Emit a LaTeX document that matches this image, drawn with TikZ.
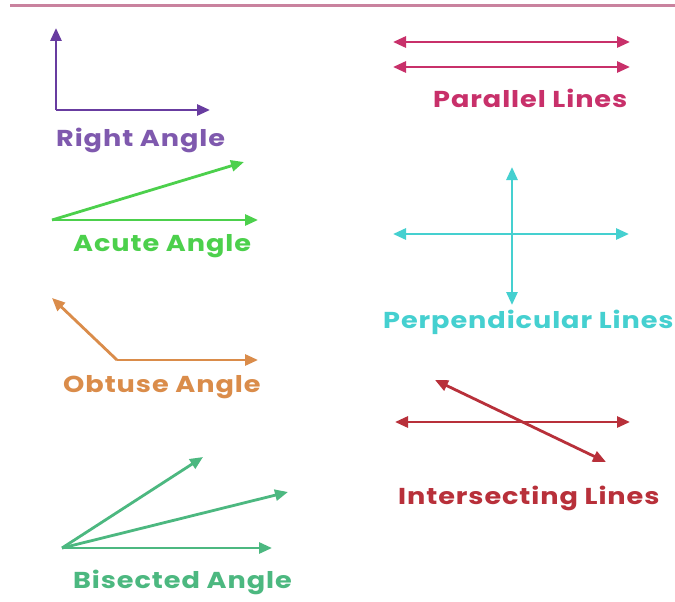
\documentclass[tikz,border=0pt]{standalone}
\usepackage{fontspec}
\setmainfont{Poppins}[FakeStretch=1.18,LetterSpace=4]
\usetikzlibrary{arrows.meta}
\definecolor{cTop}{RGB}{201,130,158}
\definecolor{cPurple}{RGB}{104,60,160}
\definecolor{cPink}{RGB}{200,48,106}
\definecolor{cGreen}{RGB}{76,208,76}
\definecolor{cCyan}{RGB}{69,208,208}
\definecolor{cOrange}{RGB}{218,140,74}
\definecolor{cRed}{RGB}{184,48,58}
\definecolor{cSea}{RGB}{76,184,128}
\tikzset{
  ray/.style={line width=2.8pt,-{Triangle[length=13pt,width=11pt]}},
  dray/.style={line width=2.8pt,{Triangle[length=13pt,width=11pt]}-{Triangle[length=13pt,width=11pt]}},
  lbl/.style={anchor=base west,inner sep=0pt,font=\fontsize{23}{26}\selectfont\bfseries}
}
\begin{document}
\begin{tikzpicture}[x=1pt,y=-1pt]
\useasboundingbox (0,0) rectangle (675,602);
\fill[white] (0,0) rectangle (675,602);
% top rule
\coordinate (tl) at (10,6); \coordinate (tr) at (675,6);
\draw[cTop,line width=3pt] (tl) -- (tr);

% Right angle
\coordinate (rv) at (56,110); \coordinate (ru) at (56,28); \coordinate (rr) at (210,110);
\draw[cPurple,ray] (rv) -- (ru);
\draw[cPurple,ray] (rv) -- (rr);
\node[lbl,text=cPurple!85!white] (rl) at (56,146) {Right Angle};

% Parallel lines
\coordinate (p1a) at (393,42); \coordinate (p1b) at (630,42);
\coordinate (p2a) at (393,67); \coordinate (p2b) at (630,67);
\draw[cPink,dray] (p1a) -- (p1b);
\draw[cPink,dray] (p2a) -- (p2b);
\node[lbl,text=cPink] (pl) at (433,107) {Parallel Lines};

% Acute angle
\coordinate (av) at (52,220); \coordinate (ar) at (258,220); \coordinate (au) at (244,162);
\draw[cGreen,ray] (av) -- (ar);
\draw[cGreen,ray] (av) -- (au);
\node[lbl,text=cGreen] (al) at (73,251) {Acute Angle};

% Perpendicular lines
\coordinate (hl) at (393,234); \coordinate (hr) at (629,234);
\coordinate (vt) at (512,167); \coordinate (vb) at (512,305);
\draw[cCyan,dray] (hl) -- (hr);
\draw[cCyan,dray] (vt) -- (vb);
\node[lbl,text=cCyan] (perl) at (383,328) {Perpendicular Lines};

% Obtuse angle
\coordinate (ov) at (117,360); \coordinate (or) at (258,360); \coordinate (ou) at (52,298);
\draw[cOrange,ray] (ov) -- (or);
\draw[cOrange,ray] (ov) -- (ou);
\node[lbl,text=cOrange] (ol) at (63,392) {Obtuse Angle};

% Intersecting lines
\coordinate (il) at (395,422); \coordinate (ir) at (630,422);
\coordinate (id1) at (435,380); \coordinate (id2) at (606,462);
\draw[cRed,dray] (il) -- (ir);
\draw[cRed,dray] (id1) -- (id2);
\node[lbl,text=cRed] (intl) at (398,504) {Intersecting Lines};

% Bisected angle
\coordinate (bv) at (62,548); \coordinate (br) at (272,548);
\coordinate (bm) at (288,492); \coordinate (bt) at (203,457);
\draw[cSea,ray] (bv) -- (br);
\draw[cSea,ray] (bv) -- (bm);
\draw[cSea,ray] (bv) -- (bt);
\node[lbl,text=cSea] (bl) at (73,588) {Bisected Angle};
\end{tikzpicture}
\end{document}
